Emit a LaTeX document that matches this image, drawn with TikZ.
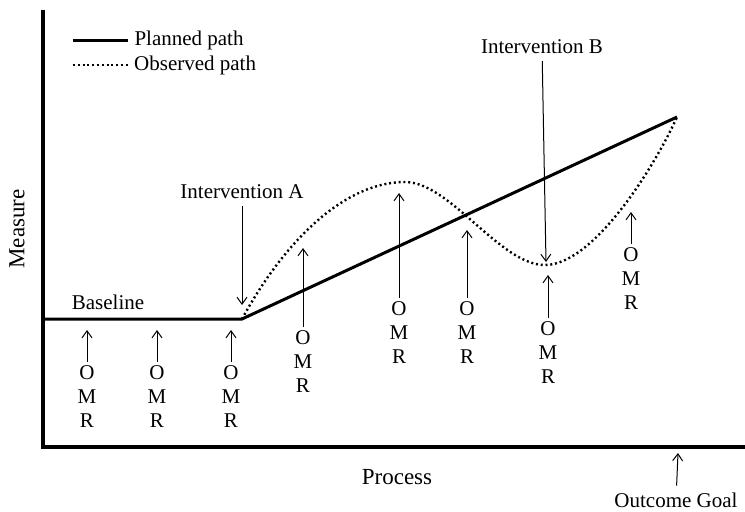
\documentclass[tikz,border=0pt]{standalone}
\usepackage{fontspec}
\setmainfont{Liberation Serif}
\usetikzlibrary{arrows.meta}
\begin{document}
\begin{tikzpicture}[x=0.5pt, y=-0.5pt,
    font=\fontsize{10.5}{12}\selectfont,
    omr/.style={align=center, inner sep=0pt, outer sep=2pt},
    mark arrow/.style={line width=0.5pt, -{Straight Barb[length=3.5pt,width=5pt]}},
    planned/.style={line width=1.5pt},
    observed/.style={line width=1.2pt, dash pattern=on 1pt off 1.4pt}]
      \useasboundingbox (0,0) rectangle (745,511);
      % axis
      \draw[line width=2pt] (43,10) -- (43,447) -- (745,447);
      \node[rotate=90, font=\fontsize{11.5}{12}\selectfont] (measure) at (17,229) {Measure};
      \node[font=\fontsize{11.5}{12}\selectfont] (process) at (397,477) {Process};
      % legend
      \coordinate (lp1) at (73,40);
      \coordinate (lp2) at (128,40);
      \coordinate (lo1) at (73,65);
      \coordinate (lo2) at (128,65);
      \draw[planned] (lp1) -- (lp2) node[anchor=west, inner sep=2.5pt] (lplanned) {Planned path};
      \draw[observed] (lo1) -- (lo2) node[anchor=west, inner sep=2.5pt] (lobserved) {Observed path};
      % paths
      \coordinate (start) at (43,319);
      \coordinate (ia) at (242,319);
      \coordinate (peak) at (405,182);
      \coordinate (trough) at (545,265);
      \coordinate (goal) at (677,117);
      \draw[planned] (start) -- (ia) -- (goal);
      \draw[observed] (ia) .. controls (285,240) and (345,182) .. (peak)
        .. controls (450,182) and (500,265) .. (trough)
        .. controls (592,265) and (652,172) .. (goal);
      \node (baseline) at (108,302) {Baseline};
      % interventions
      \node (inta) at (242,192) {Intervention A};
      \coordinate (inta end) at (242,305);
      \draw[mark arrow] (inta) -- (inta end);
      \node (intb) at (542,47) {Intervention B};
      \coordinate (intb end) at (546,262);
      \draw[mark arrow] (intb) -- (intb end);
      % measurements
      \foreach \i/\x/\y/\t in {1/87/397/330, 2/157/397/330, 3/231/397/330,
          4/303/362/248, 5/399/333/193, 6/467/333/230, 7/548/353/275, 8/631/279/212} {
        \node[omr] (omr\i) at (\x,\y) {O\\M\\R};
        \coordinate (omr\i top) at (\x,\t);
        \draw[mark arrow] (omr\i) -- (omr\i top);
      }
      % outcome
      \node (outcome) at (676,500) {Outcome Goal};
      \coordinate (outcome top) at (678,453);
      \draw[mark arrow] (outcome) -- (outcome top);
    \end{tikzpicture}
\end{document}
